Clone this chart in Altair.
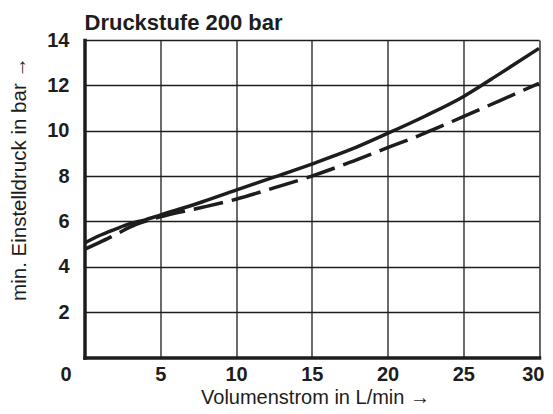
import altair as alt
import pandas as pd

# Volumenstrom (L/min)
flow = [0, 1, 2, 3, 4, 5, 7.5, 10, 12.5, 15, 17.5, 20, 22.5, 25, 27.5, 30]
# min. Einstelldruck (bar), solid curve
solid = [5.05, 5.38, 5.65, 5.9, 6.07, 6.28, 6.8, 7.38, 7.95, 8.53, 9.15, 9.88, 10.65, 11.5, 12.55, 13.63]
# min. Einstelldruck (bar), dashed curve
dashed = [4.77, 5.08, 5.4, 5.75, 6.0, 6.2, 6.58, 6.98, 7.48, 8.0, 8.6, 9.25, 9.9, 10.62, 11.35, 12.09]

x_ticks = [0, 5, 10, 15, 20, 25, 30]
y_ticks = [2, 4, 6, 8, 10, 12, 14]

INK = "#1d1d1b"
FONT = "Liberation Sans"

df_solid = pd.DataFrame({"q": flow, "p": solid})
df_dashed = pd.DataFrame({"q": flow, "p": dashed})
df_zero = pd.DataFrame({"q": [0], "p": [0], "t": ["0"]})

x_enc = alt.X(
    "q:Q",
    scale=alt.Scale(domain=[0, 30], nice=False, zero=False),
    axis=alt.Axis(
        values=x_ticks,
        labelExpr="datum.value == 0 ? '' : datum.label",
        labelFont=FONT, labelFontWeight="bold", labelFontSize=20, labelColor=INK,
        labelPadding=23, labelBaseline="alphabetic",
        labelFlush=True, labelFlushOffset=5,
        ticks=False, tickSize=0,
        domainWidth=3.5, domainColor=INK, domainCap="square",
        grid=True, gridColor=INK, gridWidth=1.3,
        title="Volumenstrom in L/min →",
        titleFont=FONT, titleFontSize=20, titleFontWeight="normal", titleColor=INK,
        titleX=230.5, titleY=45.5, titleAlign="center", titleBaseline="alphabetic",
    ),
)
y_enc = alt.Y(
    "p:Q",
    scale=alt.Scale(domain=[0, 14], nice=False, zero=False),
    axis=alt.Axis(
        values=y_ticks,
        labelFont=FONT, labelFontWeight="bold", labelFontSize=20, labelColor=INK,
        labelPadding=15.5, labelFlush=False,
        ticks=False, tickSize=0,
        domainWidth=3.5, domainColor=INK, domainCap="square",
        grid=True, gridColor=INK, gridWidth=1.3,
        title="min. Einstelldruck in bar →",
        titleFont=FONT, titleFontSize=20.5, titleFontWeight="normal", titleColor=INK,
        titleX=-59, titleY=138.5, titleAlign="center", titleBaseline="alphabetic",
        titleAngle=270,
    ),
)

line_solid = alt.Chart(df_solid).mark_line(
    color=INK, strokeWidth=3.5, interpolate="monotone"
).encode(x=x_enc, y=y_enc)

line_dashed = alt.Chart(df_dashed).mark_line(
    color=INK, strokeWidth=3.5, interpolate="monotone", strokeDash=[30, 9]
).encode(x=x_enc, y=y_enc)

zero_label = alt.Chart(df_zero).mark_text(
    font=FONT, fontWeight="bold", fontSize=20, color=INK,
    align="right", baseline="alphabetic", dx=-12.8, dy=23,
).encode(x=x_enc, y=y_enc, text="t:N")

chart = (
    alt.layer(line_solid, line_dashed, zero_label)
    .properties(
        width=454.5,
        height=317.5,
        autosize=alt.AutoSizeParams(type="none"),
        padding={"left": 76.5, "top": 32, "right": 6, "bottom": 48.5},
        title=alt.TitleParams(
            "Druckstufe 200 bar",
            font=FONT, fontSize=22, fontWeight="bold", color=INK,
            anchor="start", frame="group", baseline="alphabetic", offset=12, dy=33.5,
        ),
    )
    .configure_view(stroke=INK, strokeWidth=1.3)
    .configure(background="white")
)

chart.save("out.html", embed_options={"renderer": "svg", "actions": False})
